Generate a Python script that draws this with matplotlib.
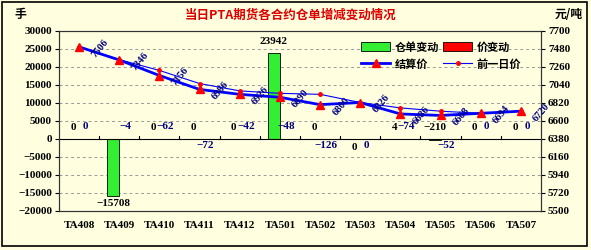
import matplotlib
matplotlib.use("Agg")
import matplotlib.pyplot as plt
from matplotlib.patches import Rectangle, Patch
from matplotlib.lines import Line2D
import numpy as np

plt.rcParams['font.family'] = ['Liberation Serif', 'Noto Sans CJK SC', 'DejaVu Sans']

contracts = ["TA408", "TA409", "TA410", "TA411", "TA412", "TA501",
             "TA502", "TA503", "TA504", "TA505", "TA506", "TA507"]
warrant_change = [0, -15708, 0, 0, 0, 23942, 0, 0, 4, -210, 0, 0]
price_change = [0, -4, -62, -72, -42, -48, -126, 0, -74, -52, 0, 0]
settle_price = [7506, 7346, 7156, 6986, 6926, 6890, 6800, 6826, 6686, 6668, 6694, 6720]
prev_price = [7506, 7350, 7218, 7058, 6968, 6938, 6926, 6826, 6760, 6720, 6694, 6720]
left_ticks = [-20000, -15000, -10000, -5000, 0, 5000, 10000, 15000, 20000, 25000, 30000]
right_ticks = [5500, 5720, 5940, 6160, 6380, 6600, 6820, 7040, 7260, 7480, 7700]
title = "当日PTA期货各合约仓单增减变动情况"

# label placement (style): 'a' above, 'b' below
green_side = ['a', 'b', 'a', 'a', 'a', 'a', 'a', 'b', 'a', 'a', 'a', 'a']
red_side = ['a', 'a', 'a', 'b', 'a', 'a', 'b', 'b', 'a', 'b', 'a', 'a']

BG = '#FFFFE0'
NAVY = '#000080'
fig = plt.figure(figsize=(5.91, 2.5), dpi=100)
fig.patch.set_facecolor(BG)
fig.patches.append(Rectangle((0.003, 0.016), 0.991, 0.976, transform=fig.transFigure,
                             fill=False, edgecolor='black', lw=1.2))

ax = fig.add_axes([0.0998, 0.156, 0.8156, 0.720])
ax.set_facecolor(BG)
x = np.arange(len(contracts))
w = 0.3
ax.bar(x - w / 2, warrant_change, width=w, color='#33ee33', edgecolor='black', lw=0.6, zorder=3)
ax.bar(x + w / 2, price_change, width=w, color='#ff0000', edgecolor='black', lw=0.6, zorder=3)
ax.set_xlim(-0.5, len(contracts) - 0.5)
ax.set_ylim(-20000, 30000)
ax.set_yticks(left_ticks)
ax.set_yticklabels([str(v).replace('-', '\u2212') for v in left_ticks],
                   fontsize=8, fontweight='bold')
ax.grid(axis='y', color='#999999', ls=(0, (3, 3)), lw=0.7, zorder=0)
ax.axhline(0, color='black', lw=0.8, zorder=4)
for b in np.arange(0.5, len(contracts) - 0.5, 1.0):
    ax.plot([b, b], [0, 700], color='black', lw=0.8, zorder=4)
ax.set_xticks(x)
ax.set_xticklabels(contracts, fontsize=8, fontweight='bold')
ax.tick_params(axis='x', length=0, pad=7)
ax.tick_params(axis='y', length=3, direction='out', pad=2)
for s in ax.spines.values():
    s.set_color('#333333')
    s.set_linewidth(0.8)

def fmt(v):
    return str(v).replace('-', '\u2212')

for i in range(len(contracts)):
    v = warrant_change[i]
    if green_side[i] == 'a':
        ax.annotate(fmt(v), (x[i] - w / 2, max(v, 0)), xytext=(0, 8), textcoords='offset points',
                    ha='center', va='center', fontsize=8, fontweight='bold', color='black', zorder=6)
    else:
        ax.annotate(fmt(v), (x[i] - w / 2, min(v, 0)), xytext=(0, -6), textcoords='offset points',
                    ha='center', va='center', fontsize=8, fontweight='bold', color='black', zorder=6)
    p = price_change[i]
    if red_side[i] == 'a':
        ax.annotate(fmt(p), (x[i] + w / 2, 0), xytext=(0, 9), textcoords='offset points',
                    ha='center', va='center', fontsize=8, fontweight='bold', color=NAVY, zorder=6)
    else:
        ax.annotate(fmt(p), (x[i] + w / 2, 0), xytext=(0, -5), textcoords='offset points',
                    ha='center', va='center', fontsize=8, fontweight='bold', color=NAVY, zorder=6)

ax2 = ax.twinx()
ax2.set_ylim(5500, 7700)
ax2.set_yticks(right_ticks)
ax2.set_yticklabels([str(v) for v in right_ticks], fontsize=8, fontweight='bold')
ax2.tick_params(axis='y', length=3, direction='out', pad=2)
for s in ax2.spines.values():
    s.set_color('#333333')
    s.set_linewidth(0.8)
ax2.plot(x, prev_price, color='#0000ff', lw=0.8, marker='o', ms=2.5,
         mfc='#ff0000', mec='#ff0000', zorder=4)
ax2.plot(x, settle_price, color='#0000ff', lw=2, marker='^', ms=5.5,
         mfc='#ff0000', mec='#ff0000', zorder=5)
for i in range(len(contracts)):
    ax2.annotate(str(settle_price[i]), (x[i], settle_price[i]), xytext=(15, -1),
                 textcoords='offset points', ha='center', va='center', rotation=50,
                 fontsize=7.5, fontweight='bold', color=NAVY, zorder=6)

h_warrant = Patch(facecolor='#33ee33', edgecolor='black', lw=0.6)
h_pchg = Patch(facecolor='#ff0000', edgecolor='black', lw=0.6)
h_settle = Line2D([], [], color='#0000ff', lw=2, marker='^', ms=5.5, mfc='#ff0000', mec='#ff0000')
h_prev = Line2D([], [], color='#0000ff', lw=0.8, marker='o', ms=2.5, mfc='#ff0000', mec='#ff0000')
handles = [h_warrant, h_settle, h_pchg, h_prev]
labels = ["仓单变动", "结算价", "价变动", "前一日价"]
leg = ax2.legend(handles, labels, ncol=2, loc='upper right', bbox_to_anchor=(0.975, 0.99),
                 frameon=False, prop={'family': ['Noto Sans CJK SC'], 'weight': 'bold', 'size': 8},
                 handlelength=2.6, handleheight=0.9, columnspacing=0.4, handletextpad=0.4,
                 labelspacing=0.35, borderpad=0.2)

fig.text(0.491, 0.94, title, ha='center', va='center', fontsize=9, fontweight='bold',
         color='#dd0000', family=['Noto Sans CJK SC'])
fig.text(0.034, 0.942, "手", ha='center', va='center', fontsize=8.5, fontweight='bold',
         family=['Noto Sans CJK SC'])
fig.text(0.962, 0.94, "元/吨", ha='center', va='center', fontsize=8.5, fontweight='bold',
         family=['Noto Sans CJK SC'])

fig.savefig("out.png", dpi=100, facecolor=BG)
